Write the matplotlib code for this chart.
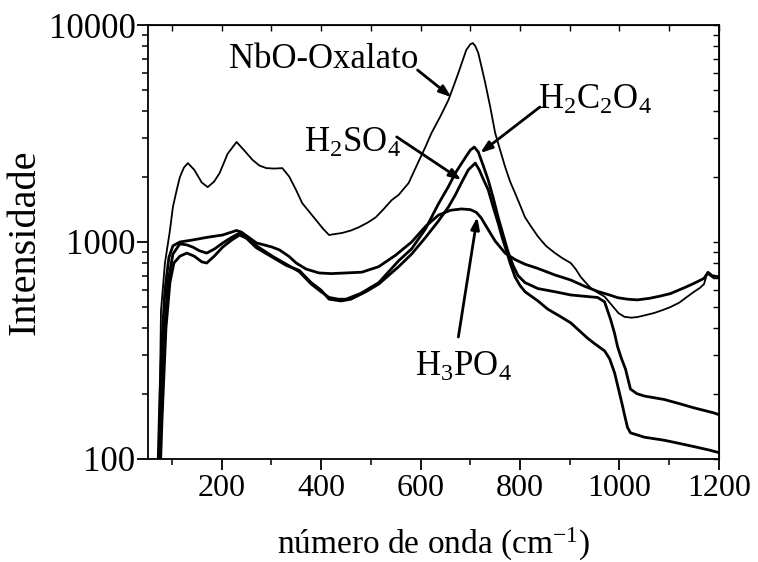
import numpy as np
import matplotlib
matplotlib.use("Agg")
from matplotlib import pyplot as plt
from matplotlib.ticker import LogLocator, NullFormatter, FuncFormatter, MultipleLocator

plt.rcParams['font.family'] = ['Liberation Serif', 'DejaVu Serif']
plt.rcParams['mathtext.fontset'] = 'custom'
plt.rcParams['mathtext.rm'] = 'Liberation Serif'
plt.rcParams['mathtext.it'] = 'Liberation Serif:italic'

# NbO-Oxalato
x_nbo = [74, 78, 86, 96, 102, 110, 116, 124, 132, 145, 160, 172, 185, 196, 212, 230, 245, 262,
         276, 290, 306, 322, 336, 350, 362, 376, 390, 404, 416, 430, 442, 460, 476, 494, 510, 526,
         542, 556, 576, 596, 610, 622, 640, 656, 666, 676, 684, 692, 700, 705, 710, 716, 722, 730,
         740, 750, 760, 770, 780, 790, 800, 810, 822, 836, 852, 870, 886, 902, 912, 922, 932, 942,
         956, 970, 985, 998, 1010, 1024, 1036, 1052, 1070, 1086, 1102, 1120, 1136, 1150, 1162,
         1170, 1176, 1182, 1190, 1200]
y_nbo = [90, 480, 800, 1130, 1450, 1750, 1990, 2200, 2310, 2150, 1880, 1790, 1900, 2080, 2550,
         2890, 2650, 2390, 2250, 2190, 2180, 2190, 2000, 1730, 1510, 1380, 1260, 1150, 1077, 1090,
         1100, 1130, 1170, 1230, 1300, 1420, 1560, 1650, 1870, 2350, 2750, 3180, 3800, 4510, 5200,
         6010, 6800, 7680, 8150, 8260, 8000, 7430, 6500, 5410, 4200, 3180, 2650, 2220, 1900, 1680,
         1480, 1300, 1180, 1060, 960, 890, 840, 800, 750, 690, 650, 614, 585, 560, 510, 470, 452,
         448, 451, 460, 471, 485, 501, 525, 559, 590, 615, 640, 715, 700, 680, 680]

# H3PO4
x_h3po4 = [72, 76, 80, 86, 94, 102, 116, 140, 170, 202, 230, 240, 270, 300, 316, 335, 350, 370,
           396, 420, 450, 482, 516, 550, 582, 610, 636, 660, 682, 700, 712, 722, 735, 750, 770,
           790, 810, 836, 870, 902, 930, 956, 980, 996, 1016, 1036, 1060, 1080, 1102, 1130, 1150,
           1170, 1178, 1186, 1200]
y_h3po4 = [90, 200, 350, 600, 850, 960, 1000, 1020, 1050, 1077, 1130, 1110, 990, 950, 920, 860,
           800, 750, 720, 715, 720, 726, 770, 870, 1000, 1180, 1330, 1400, 1420, 1410, 1370, 1290,
           1150, 1010, 889, 830, 790, 755, 705, 668, 625, 592, 570, 554, 545, 541, 550, 562, 578,
           615, 645, 680, 725, 700, 690]

# H2C2O4
x_h2c2o4 = [74, 78, 84, 92, 102, 116, 130, 142, 156, 170, 186, 202, 220, 236, 250, 270, 302, 330,
            356, 380, 400, 416, 435, 450, 480, 516, 556, 582, 610, 636, 656, 670, 690, 700, 708,
            716, 726, 736, 746, 756, 766, 776, 786, 796, 810, 836, 870, 902, 930, 956, 970, 982,
            990, 996, 1004, 1012, 1022, 1035, 1050, 1090, 1120, 1150, 1190, 1200]
y_h2c2o4 = [80, 150, 350, 650, 880, 980, 970, 947, 910, 889, 930, 989, 1050, 1100, 1060, 960, 860,
            790, 730, 640, 590, 555, 545, 545, 580, 650, 820, 930, 1150, 1500, 1800, 2080, 2450,
            2650, 2740, 2600, 2250, 1930, 1600, 1300, 1080, 900, 780, 700, 650, 610, 590, 570, 562,
            555, 530, 440, 380, 330, 290, 260, 210, 200, 195, 188, 180, 172, 163, 160]

# H2SO4
x_h2so4 = [76, 80, 88, 96, 104, 116, 130, 145, 160, 170, 185, 202, 220, 236, 250, 270, 302, 330,
           356, 380, 400, 416, 440, 460, 490, 516, 556, 582, 610, 636, 656, 670, 682, 696, 710,
           718, 726, 736, 746, 756, 764, 772, 780, 790, 800, 810, 836, 856, 880, 902, 922, 936,
           950, 970, 980, 990, 998, 1005, 1010, 1016, 1022, 1050, 1090, 1120, 1150, 1180, 1200]
y_h2so4 = [80, 150, 400, 650, 800, 860, 889, 860, 810, 800, 860, 947, 1020, 1077, 1040, 940, 851,
           780, 740, 650, 600, 545, 535, 545, 590, 640, 770, 880, 1050, 1250, 1450, 1650, 1870,
           2150, 2310, 2150, 1950, 1740, 1450, 1222, 1050, 920, 800, 690, 630, 590, 535, 490, 455,
           424, 385, 360, 340, 315, 290, 250, 210, 180, 160, 140, 132, 126, 122, 118, 114, 110, 107]

fig = plt.figure(figsize=(7.58, 5.62), dpi=100)
ax = fig.add_axes([0.1953, 0.1833, 0.7532, 0.7722])

ax.plot(x_nbo, y_nbo, color='black', lw=1.3)
ax.plot(x_h3po4, y_h3po4, color='black', lw=2.0)
ax.plot(x_h2c2o4, y_h2c2o4, color='black', lw=2.0)
ax.plot(x_h2so4, y_h2so4, color='black', lw=2.0)

ax.set_yscale('log')
ax.set_xlim(52, 1200)
ax.set_ylim(100, 10000)

ax.xaxis.set_major_locator(MultipleLocator(200))
ax.xaxis.set_minor_locator(MultipleLocator(100))
ax.yaxis.set_major_locator(LogLocator(base=10))
ax.yaxis.set_minor_locator(LogLocator(base=10, subs=np.arange(2, 10)))
ax.yaxis.set_minor_formatter(NullFormatter())
ax.yaxis.set_major_formatter(FuncFormatter(lambda v, p: f'{v:g}'))

ax.tick_params(which='major', direction='out', length=8, width=1.3)
ax.tick_params(which='minor', direction='out', length=4.5, width=1.1)
ax.tick_params(axis='x', which='major', labelsize=23, pad=3)
ax.tick_params(axis='y', which='major', labelsize=25, pad=1)
for s in ax.spines.values():
    s.set_linewidth(1.3)

top = ax.secondary_xaxis('top')
top.xaxis.set_major_locator(MultipleLocator(100))
top.tick_params(direction='in', length=4, width=1.0, labeltop=False)
right = ax.secondary_yaxis('right')
right.yaxis.set_major_locator(LogLocator(base=10))
right.yaxis.set_minor_locator(LogLocator(base=10, subs=np.arange(2, 10)))
right.tick_params(which='both', direction='in', length=4, width=1.0, labelright=False)
right.yaxis.set_minor_formatter(NullFormatter())

ax.set_xlabel('número de onda (cm$^{-1}$)', fontsize=24, labelpad=16)
ax.set_ylabel('Intensidade', fontsize=29, labelpad=4)

arrow = dict(arrowstyle='-|>,head_length=0.7,head_width=0.25', color='black', lw=2.0,
             shrinkA=0, shrinkB=0)
ax.text(406, 6900, 'NbO-Oxalato', fontsize=25, ha='center', va='center')
ax.annotate('', xy=(662, 4650), xytext=(594, 6200), arrowprops=arrow)
ax.text(464, 2860, 'H$_2$SO$_4$', fontsize=25, ha='center', va='center')
ax.annotate('', xy=(682, 1930), xytext=(552, 3050), arrowprops=arrow)
ax.text(950, 4500, 'H$_2$C$_2$O$_4$', fontsize=25, ha='center', va='center')
ax.annotate('', xy=(720, 2570), xytext=(840, 4190), arrowprops=arrow)
ax.text(686, 265, 'H$_3$PO$_4$', fontsize=25, ha='center', va='center')
ax.annotate('', xy=(714, 1303), xytext=(676, 365), arrowprops=arrow)

fig.savefig('out.png', dpi=100)
